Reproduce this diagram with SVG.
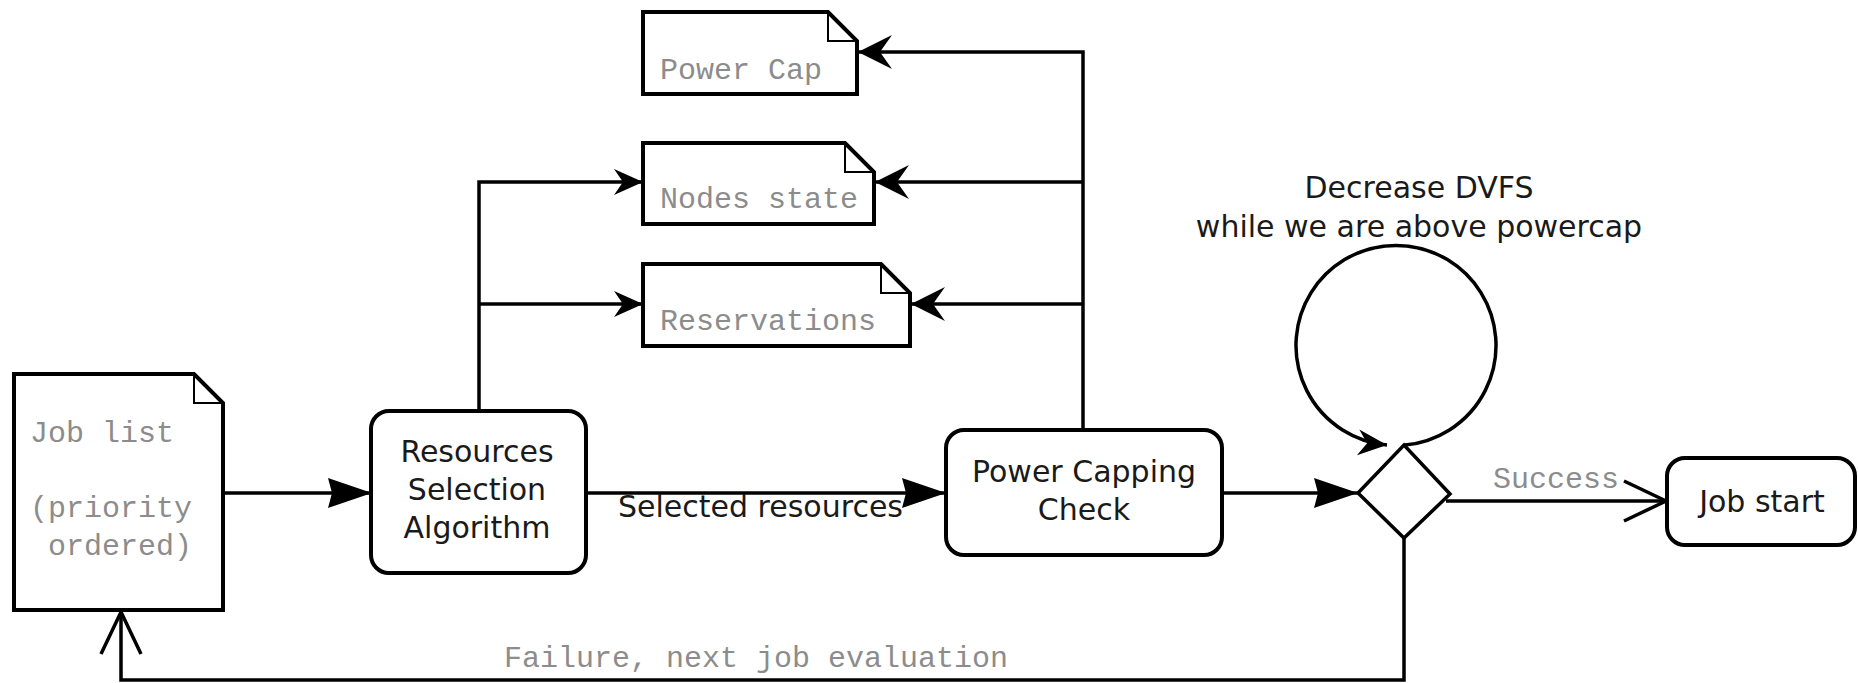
<svg xmlns="http://www.w3.org/2000/svg" width="1858" height="683" viewBox="0 0 1858 683">
<style>
.note{fill:#fff;stroke:#000;stroke-width:4;stroke-linejoin:miter}
.fold{fill:none;stroke:#000;stroke-width:2}
.box{fill:#fff;stroke:#000;stroke-width:4}
.dia{fill:#fff;stroke:#000;stroke-width:3.5}
.mono{font-family:"Liberation Mono",monospace;font-size:30px;fill:#8c8c8c}
.sans{font-family:"DejaVu Sans",sans-serif;font-size:30px;fill:#1a1a1a}
.mid{text-anchor:middle}
.ln{fill:none;stroke:#000;stroke-width:3.5}
</style>
<defs>
<marker id="tri" markerUnits="userSpaceOnUse" viewBox="-46 -18 48 36" refX="0" refY="0" markerWidth="48" markerHeight="36" orient="auto">
<path d="M0,0 L-44,-15 L-40,0 L-44,15 Z" fill="#000"/>
</marker>
<marker id="cc" markerUnits="userSpaceOnUse" viewBox="-36 -20 38 40" refX="0" refY="0" markerWidth="38" markerHeight="40" orient="auto">
<path d="M0,0 L-34,-17 L-22,0 L-34,17 Z" fill="#000"/>
</marker>
<marker id="cc2" markerUnits="userSpaceOnUse" viewBox="-32 -16 34 32" refX="0" refY="0" markerWidth="34" markerHeight="32" orient="auto">
<path d="M0,0 L-29,-13 L-20,0 L-29,13 Z" fill="#000"/>
</marker>
<marker id="open" markerUnits="userSpaceOnUse" viewBox="-46 -24 50 48" refX="0" refY="0" markerWidth="50" markerHeight="48" orient="auto">
<path d="M-42,-20 L0,0 L-42,20" fill="none" stroke="#000" stroke-width="3.5"/>
</marker>
</defs>

<g id="connectors">
<path class="ln" d="M224,493 H372" marker-end="url(#tri)"/>
<path class="ln" d="M586,493 H946" marker-end="url(#tri)"/>
<path class="ln" d="M1222,493 H1358" marker-end="url(#tri)"/>
<path class="ln" d="M479,410 V182 H643" marker-end="url(#cc2)"/>
<path class="ln" d="M479,304 H643" marker-end="url(#cc2)"/>
<path class="ln" d="M1083,429 V52 H858" marker-end="url(#cc)"/>
<path class="ln" d="M1083,182 H875" marker-end="url(#cc)"/>
<path class="ln" d="M1083,304 H911" marker-end="url(#cc)"/>
<path class="ln" d="M1446,501 H1666" marker-end="url(#open)"/>
<path class="ln" d="M1404,538 V680 H121 V612" marker-end="url(#open)"/>
<path class="ln" d="M1405,445 A100,100 0 1,0 1387,445" marker-end="url(#cc2)"/>
<text class="sans" x="618" y="517">Selected resources</text>
<text class="mono" x="1493" y="488">Success</text>
<text class="mono" x="504" y="667">Failure, next job evaluation</text>
<text class="sans mid" x="1419" y="198">Decrease DVFS</text>
<text class="sans mid" x="1419" y="237">while we are above powercap</text>
</g>

<g id="job-list">
<path class="note" d="M14,374 H194 L223,403 V610 H14 Z"/>
<path class="fold" d="M194,374 V403 H223"/>
<text class="mono" x="30" y="442">Job list</text>
<text class="mono" x="30" y="517">(priority</text>
<text class="mono" x="48" y="555">ordered)</text>
</g>

<g id="power-cap">
<path class="note" d="M643,12 H828 L857,41 V94 H643 Z"/>
<path class="fold" d="M828,12 V41 H857"/>
<text class="mono" x="660" y="79">Power Cap</text>
</g>

<g id="nodes-state">
<path class="note" d="M643,143 H845 L874,172 V224 H643 Z"/>
<path class="fold" d="M845,143 V172 H874"/>
<text class="mono" x="660" y="208">Nodes state</text>
</g>

<g id="reservations">
<path class="note" d="M643,264 H881 L910,293 V346 H643 Z"/>
<path class="fold" d="M881,264 V293 H910"/>
<text class="mono" x="660" y="330">Reservations</text>
</g>

<g id="resources-selection">
<rect class="box" x="371" y="411" width="215" height="162" rx="18"/>
<text class="sans mid" x="477" y="462">Resources</text>
<text class="sans mid" x="477" y="500">Selection</text>
<text class="sans mid" x="477" y="538">Algorithm</text>
</g>

<g id="power-capping-check">
<rect class="box" x="946" y="430" width="276" height="125" rx="18"/>
<text class="sans mid" x="1084" y="482">Power Capping</text>
<text class="sans mid" x="1084" y="520">Check</text>
</g>

<g id="decision">
<path class="dia" d="M1358,493 L1404,445 L1450,494 L1404,538 Z"/>
</g>

<g id="job-start">
<rect class="box" x="1667" y="458" width="188" height="87" rx="18"/>
<text class="sans mid" x="1762" y="512">Job start</text>
</g>
</svg>
